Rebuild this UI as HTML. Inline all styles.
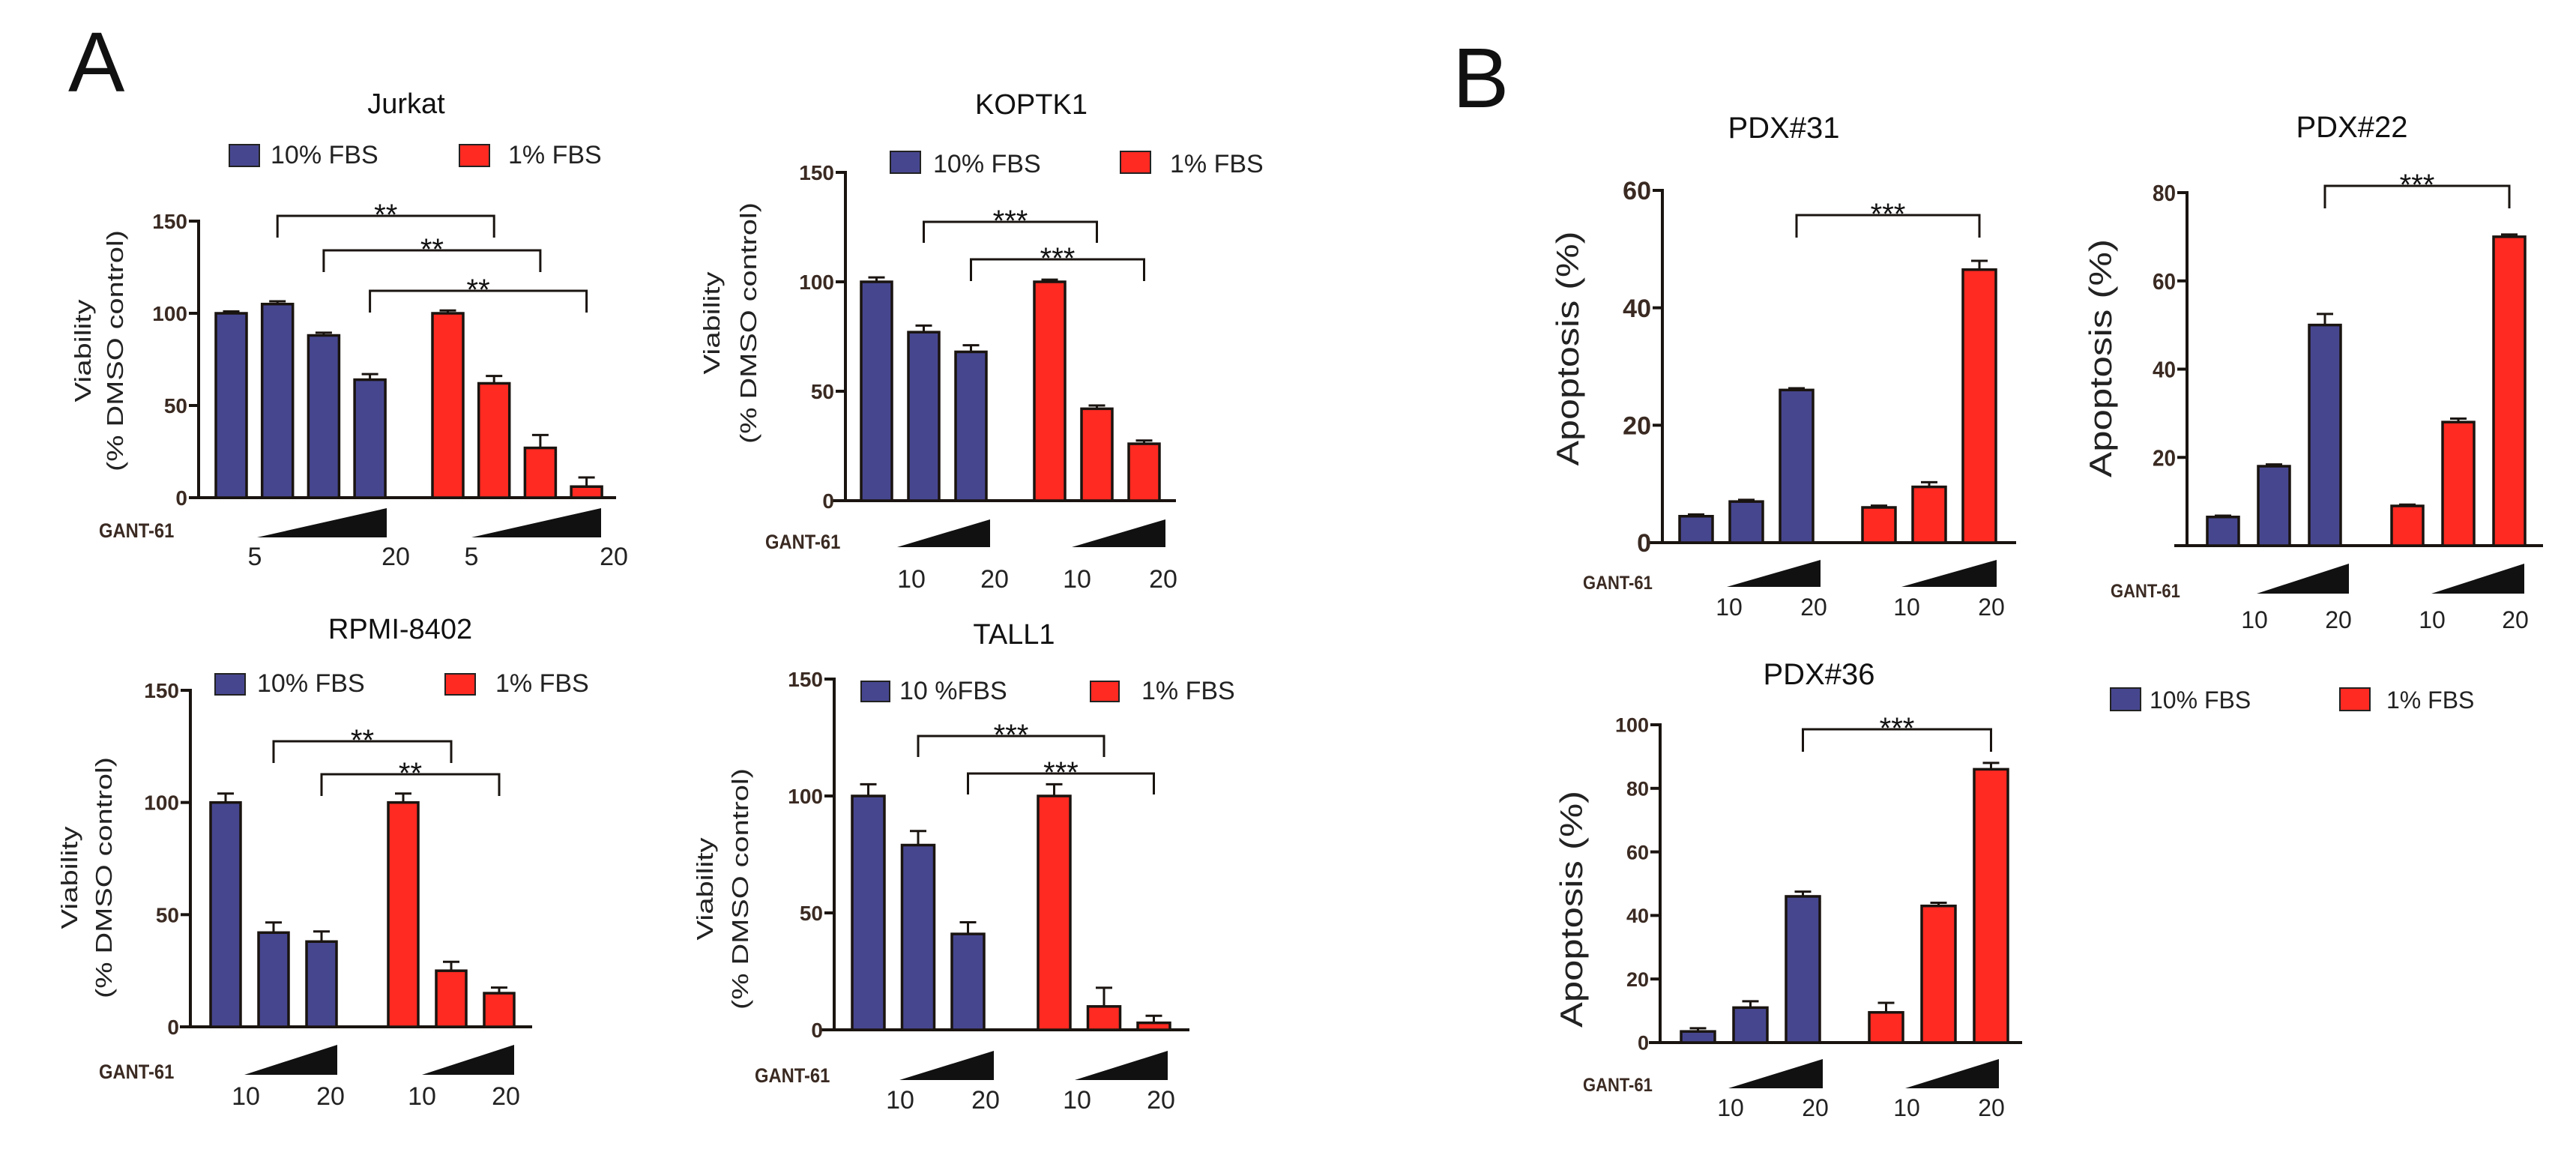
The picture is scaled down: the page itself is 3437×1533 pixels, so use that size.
<!DOCTYPE html>
<html><head><meta charset="utf-8"><style>
html,body{margin:0;padding:0;background:#fff;}
svg{display:block;font-family:"Liberation Sans",Arial,sans-serif;}
</style></head><body>
<svg id="fig" width="3437" height="1533" viewBox="0 0 3437 1533" xmlns="http://www.w3.org/2000/svg">
<rect width="3437" height="1533" fill="#fff"/>
<text x="91" y="122" font-size="113" fill="#111">A</text>
<text x="1938" y="143" font-size="113" fill="#111">B</text>
<g>
<rect x="2816" y="918" width="40" height="30" fill="#46468f" stroke="#222" stroke-width="2"/>
<text x="2868" y="945" font-size="32" fill="#222">10% FBS</text>
<rect x="3122" y="918" width="40" height="30" fill="#ff2a22" stroke="#222" stroke-width="2"/>
<text x="3184" y="945" font-size="32" fill="#222">1% FBS</text>
</g>
</svg>
<script>
// ---- data ----
const jurkatBlue=[100,105,88,64], jurkatRed=[100,62,27,6];
const jurkatBlueErr=[1,1.5,1.5,3], jurkatRedErr=[1.5,4,7,5];
const koptBlue=[100,77,68], koptRed=[100,42,26];
const koptBlueErr=[2,3,3], koptRedErr=[1,1.5,1.5];
const rpmiBlue=[100,42,38], rpmiRed=[100,25,15];
const rpmiBlueErr=[4,4.5,4.5], rpmiRedErr=[4,4,2.5];
const tallBlue=[100,79,41], tallRed=[100,10,3];
const tallBlueErr=[5,6,5], tallRedErr=[5,8,3];
const pdx31Blue=[4.5,7,26], pdx31Red=[6,9.5,46.5];
const pdx31BlueErr=[0.3,0.3,0.3], pdx31RedErr=[0.3,0.8,1.5];
const pdx22Blue=[6.5,18,50], pdx22Red=[9,28,70];
const pdx22BlueErr=[0.3,0.4,2.5], pdx22RedErr=[0.3,0.8,0.5];
const pdx36Blue=[3.5,11,46], pdx36Red=[9.5,43,86];
const pdx36BlueErr=[1,2,1.5], pdx36RedErr=[3,1,2];
const viabTicks=[0,50,100,150];
const pdx31Ticks=[0,20,40,60];
const pdx22Ticks=[20,40,60,80];
const pdx36Ticks=[0,20,40,60,80,100];

const NS='http://www.w3.org/2000/svg';
const svg=document.getElementById('fig');
const BLUE='#46468f', RED='#ff2a22', INK='#1a1410';
function mk(tag,attrs,parent,text){const e=document.createElementNS(NS,tag);for(const k in attrs)e.setAttribute(k,attrs[k]);if(text!==undefined)e.textContent=text;(parent||svg).appendChild(e);return e;}

function panel(c,blue,red,blueErr,redErr,ticks){
  const g=mk('g',{});
  
  
  const y=v=>c.y0-v/c.ymax*(c.y0-c.ytop);
  const t=mk('text',{x:c.titleX,y:c.titleY,'font-size':c.titleFs||38,'text-anchor':'middle',fill:'#111'},g,c.title);
  
  
  const ya=mk('line',{x1:c.ax,x2:c.ax,y1:y(c.ymax)-2,y2:c.y0,stroke:INK,'stroke-width':4},g);
  
  
  const xa=mk('line',{x1:c.ax0,x2:c.ax1,y1:c.y0,y2:c.y0,stroke:INK,'stroke-width':4},g);
  
  
  ticks.forEach(tv=>{
    const tk=mk('line',{x1:c.ax-13,x2:c.ax,y1:y(tv),y2:y(tv),stroke:INK,'stroke-width':4},g);
    
    
    const tl=mk('text',{x:c.ax-15,y:y(tv)+c.tickFs*0.36,'font-size':c.tickFs,'text-anchor':'end',fill:'#3a2a22','font-weight':'bold',transform:`translate(${c.ax-15},0) scale(${c.tickSx||1},1) translate(${-(c.ax-15)},0)`},g,String(tv));
    
    
  });
  const centers={b:[],r:[]};
  function bars(vals,errs,x0,col,key){
    vals.forEach((v,i)=>{
      const x=x0+i*c.pitch, top=y(v), cx=x+c.bw/2;
      centers[key].push(cx);
      const eb=mk('path',{d:`M${cx},${top} V${y(v+errs[i])} M${cx-11},${y(v+errs[i])} H${cx+11}`,stroke:INK,'stroke-width':3,fill:'none'},g);
      
      
      const r=mk('rect',{x:x,y:top,width:c.bw,height:c.y0-top,fill:col,stroke:INK,'stroke-width':3.5},g);
      
      
    });
  }
  bars(blue,blueErr,c.bx,BLUE,'b');
  bars(red,redErr,c.rx,RED,'r');
  c.brackets.forEach(b=>{
    const x1=centers.b[b[0]], x2=centers.r[b[1]];
    const p=mk('path',{d:`M${x1},${b[3]} V${b[2]} H${x2} V${b[3]}`,stroke:INK,'stroke-width':3,fill:'none'},g);
    
    
    const s=mk('text',{x:(x1+x2)/2,y:b[2]+12,'font-size':40,'text-anchor':'middle',fill:'#111'},g,b[4]);
    
    
  });
  c.wedges.forEach(w=>{
    const p=mk('polygon',{points:`${w[0]},${c.wb} ${w[1]},${c.wb} ${w[1]},${c.wt}`,fill:'#111'},g);
    
    
  });
  const gl=mk('text',{x:c.gx,y:c.gy,'font-size':c.gFs||27,fill:'#3a2a22','font-weight':'bold',transform:`translate(${c.gx},0) scale(0.88,1) translate(${-c.gx},0)`},g,'GANT-61');
  
  
  c.doses.forEach(d=>{
    const e=mk('text',{x:d[0],y:c.dy,'font-size':c.dFs||34,'text-anchor':'middle',fill:'#222'},g,d[1]);
    
    
  });
  c.ylab.forEach(l=>{
    const e=mk('text',{x:0,y:0,'font-size':c.ylFs,'text-anchor':'middle',fill:'#222',textLength:l[2],lengthAdjust:'spacingAndGlyphs',transform:`translate(${l[0]},${c.ylCy}) rotate(-90)`},g,l[1]);
    
    
  });
  if(c.legend){
    const L=c.legend;
    const a=mk('rect',{x:L[0],y:L[4],width:L[5],height:L[6],fill:BLUE,stroke:'#222','stroke-width':2},g);
    
    
    const at=mk('text',{x:L[1],y:L[7],'font-size':34,fill:'#222'},g,L[8]);
    
    
    const b=mk('rect',{x:L[2],y:L[4],width:L[5],height:L[6],fill:RED,stroke:'#222','stroke-width':2},g);
    
    
    const bt=mk('text',{x:L[3],y:L[7],'font-size':34,fill:'#222'},g,'1% FBS');
    
    
  }
}

panel({name:'jurkat',title:'Jurkat',titleX:542,titleY:151,ax:265,ax0:254,ax1:822,y0:664,ytop:295,ymax:150,tickFs:28,
  bx:288,rx:577,pitch:61.7,bw:41,
  brackets:[[1,1,288,317,'**'],[2,2,334,363,'**'],[3,3,388,417,'**']],
  wedges:[[343,516],[629,802]],wb:717,wt:678,gx:132,gy:717,
  doses:[[340,'5'],[528,'20'],[629,'5'],[819,'20']],dy:754,
  ylab:[[121,'Viability',137],[164,'(% DMSO control)',322]],ylFs:31,ylCy:468,
  legend:[306,361,613,678,193,40,29,218,'10% FBS']},jurkatBlue,jurkatRed,jurkatBlueErr,jurkatRedErr,viabTicks);

panel({name:'koptk1',title:'KOPTK1',titleX:1376,titleY:152,ax:1128,ax0:1111,ax1:1569,y0:668,ytop:230,ymax:150,tickFs:28,
  bx:1149,rx:1380,pitch:63,bw:41,
  brackets:[[1,1,296,324,'***'],[2,2,346,375,'***']],
  wedges:[[1197,1321],[1430,1555]],wb:730,wt:693,gx:1021,gy:732,
  doses:[[1216,'10'],[1327,'20'],[1437,'10'],[1552,'20']],dy:784,
  ylab:[[960,'Viability',137],[1009,'(% DMSO control)',322]],ylFs:31,ylCy:431,
  legend:[1188,1245,1495,1561,202,40,29,230,'10% FBS']},koptBlue,koptRed,koptBlueErr,koptRedErr,viabTicks);

panel({name:'rpmi8402',title:'RPMI-8402',titleX:534,titleY:852,ax:254,ax0:240,ax1:710,y0:1370,ytop:921,ymax:150,tickFs:28,
  bx:281,rx:518,pitch:64,bw:40,
  brackets:[[1,1,989,1018,'**'],[2,2,1033,1062,'**']],
  wedges:[[326,450],[563,686]],wb:1434,wt:1394,gx:132,gy:1439,
  doses:[[328,'10'],[441,'20'],[563,'10'],[675,'20']],dy:1474,
  ylab:[[103,'Viability',137],[149,'(% DMSO control)',322]],ylFs:31,ylCy:1171,
  legend:[287,343,594,661,899,40,28,923,'10% FBS']},rpmiBlue,rpmiRed,rpmiBlueErr,rpmiRedErr,viabTicks);

panel({name:'tall1',title:'TALL1',titleX:1353,titleY:859,ax:1113,ax0:1096,ax1:1587,y0:1374,ytop:906,ymax:150,tickFs:28,
  bx:1137,rx:1385,pitch:66.5,bw:43,
  brackets:[[1,1,982,1010,'***'],[2,2,1032,1060,'***']],
  wedges:[[1200,1326],[1434,1558]],wb:1441,wt:1402,gx:1007,gy:1444,
  doses:[[1201,'10'],[1315,'20'],[1437,'10'],[1549,'20']],dy:1479,
  ylab:[[951,'Viability',137],[998,'(% DMSO control)',322]],ylFs:31,ylCy:1186,
  legend:[1149,1200,1455,1523,909,38,27,933,'10 %FBS']},tallBlue,tallRed,tallBlueErr,tallRedErr,viabTicks);

panel({name:'pdx31',title:'PDX#31',titleX:2380,titleY:184,titleFs:40,ax:2218,ax0:2199,ax1:2690,y0:724,ytop:254,ymax:60,tickFs:34,tickSx:1,
  bx:2241,rx:2485,pitch:67,bw:44,
  brackets:[[2,2,287,317,'***']],
  wedges:[[2304,2429],[2537,2664]],wb:783,wt:747,gx:2112,gy:786,gFs:25,
  doses:[[2307,'10'],[2420,'20'],[2544,'10'],[2657,'20']],dy:821,dFs:32,
  ylab:[[2106,'Apoptosis (%)',313]],ylFs:42,ylCy:465}, pdx31Blue,pdx31Red,pdx31BlueErr,pdx31RedErr,pdx31Ticks);

panel({name:'pdx22',title:'PDX#22',titleX:3138,titleY:183,titleFs:40,ax:2918,ax0:2901,ax1:3393,y0:728,ytop:257,ymax:80,tickFs:31,tickSx:0.9,
  bx:2945,rx:3191,pitch:68,bw:42,
  brackets:[[2,2,248,278,'***']],
  wedges:[[3011,3134],[3244,3368]],wb:792,wt:752,gx:2816,gy:797,gFs:25,
  doses:[[3008,'10'],[3120,'20'],[3245,'10'],[3356,'20']],dy:838,dFs:32,
  ylab:[[2817,'Apoptosis (%)',318]],ylFs:42,ylCy:478}, pdx22Blue,pdx22Red,pdx22BlueErr,pdx22RedErr,pdx22Ticks);

panel({name:'pdx36',title:'PDX#36',titleX:2427,titleY:913,titleFs:40,ax:2215,ax0:2200,ax1:2698,y0:1391,ytop:967,ymax:100,tickFs:27,tickSx:1,
  bx:2243,rx:2494,pitch:70,bw:45,
  brackets:[[2,2,973,1003,'***']],
  wedges:[[2306,2432],[2542,2667]],wb:1452,wt:1413,gx:2112,gy:1456,gFs:25,
  doses:[[2309,'10'],[2422,'20'],[2544,'10'],[2657,'20']],dy:1489,dFs:32,
  ylab:[[2111,'Apoptosis (%)',316]],ylFs:42,ylCy:1213}, pdx36Blue,pdx36Red,pdx36BlueErr,pdx36RedErr,pdx36Ticks);
</script>
</body></html>
